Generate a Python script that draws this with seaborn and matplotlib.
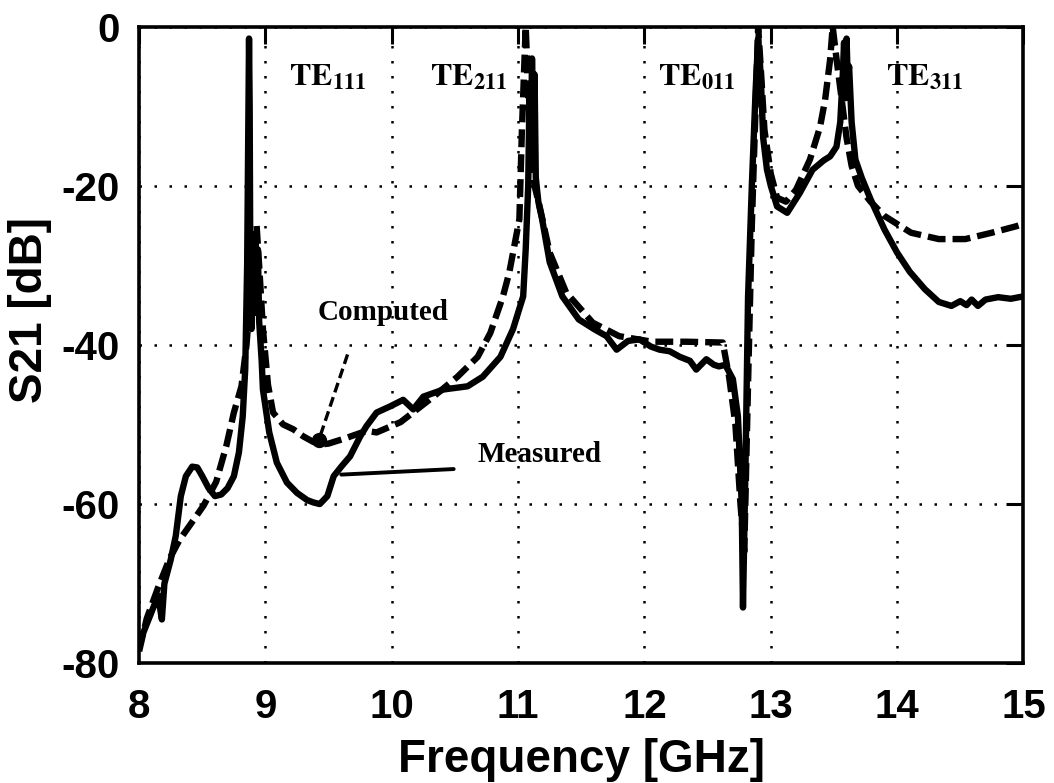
import matplotlib
matplotlib.use("Agg")
import matplotlib.pyplot as plt
import seaborn as sns
import pandas as pd

# Measured S21 trace (GHz, dB)
measured_f = [8.00, 8.05, 8.10, 8.15, 8.18, 8.20, 8.25, 8.29, 8.33, 8.37, 8.42, 8.46,
              8.50, 8.55, 8.60, 8.65, 8.70, 8.75, 8.79, 8.82, 8.84, 8.855, 8.865, 8.87,
              8.875, 8.88, 8.89, 8.90, 8.91, 8.92, 8.93, 8.94, 8.95, 8.97, 8.98, 9.03,
              9.09, 9.17, 9.25, 9.33, 9.38, 9.43, 9.49, 9.54, 9.60, 9.67, 9.75, 9.80,
              9.88, 9.99, 10.09, 10.17, 10.25, 10.41, 10.60, 10.72, 10.86, 10.96, 11.04,
              11.06, 11.08, 11.09, 11.10, 11.11, 11.12, 11.13, 11.14, 11.16, 11.19, 11.25,
              11.35, 11.48, 11.60, 11.70, 11.78, 11.87, 11.96, 12.05, 12.12, 12.20, 12.28,
              12.36, 12.41, 12.49, 12.55, 12.59, 12.64, 12.70, 12.74, 12.77, 12.78, 12.80,
              12.82, 12.85, 12.88, 12.90, 12.92, 12.94, 12.97, 13.00, 13.05, 13.13, 13.23,
              13.33, 13.42, 13.47, 13.52, 13.55, 13.57, 13.58, 13.59, 13.60, 13.61, 13.62,
              13.64, 13.67, 13.72, 13.79, 13.90, 14.00, 14.10, 14.22, 14.33, 14.43, 14.50,
              14.55, 14.59, 14.64, 14.70, 14.80, 14.90, 15.00]
measured_db = [-77.5, -75.5, -73.5, -71.5, -74.5, -70.0, -67.0, -64.0, -59.0, -56.5, -55.3, -55.4,
               -56.5, -58.0, -59.0, -58.8, -58.0, -56.5, -53.5, -49.0, -43.0, -30.0, -10.0, -1.5,
               -10.0, -30.0, -38.0, -27.0, -36.0, -26.0, -33.0, -28.0, -37.0, -42.0, -45.6, -51.0,
               -54.8, -57.3, -58.6, -59.5, -59.8, -60.0, -59.0, -56.5, -55.3, -54.0, -51.5, -50.2,
               -48.5, -47.7, -46.9, -48.1, -46.5, -45.6, -45.2, -44.0, -41.5, -38.0, -33.9,
               -28.0, -20.0, -8.0, -18.0, -4.0, -14.0, -6.0, -19.0, -22.0, -24.2, -29.6,
               -33.9, -36.8, -38.0, -38.9, -40.6, -39.5, -39.3, -40.2, -40.6, -40.8, -41.5,
               -42.0, -43.1, -41.8, -42.5, -42.7, -42.5, -44.3, -49.0, -60.0, -73.0, -55.0,
               -34.0, -20.0, -8.0, -1.5, -6.0, -14.0, -18.0, -20.0, -22.6, -23.4, -20.9,
               -18.0, -16.8, -16.3, -15.1, -12.0, -6.0, -2.0, -9.0, -1.5, -7.0, -5.0,
               -12.0, -16.7, -19.0, -21.7, -25.5, -28.4, -30.8, -33.0, -34.6, -35.1, -34.5,
               -35.0, -34.3, -35.1, -34.3, -34.0, -34.2, -33.9]

# Computed S21 response (GHz, dB)
computed_f = [8.00, 8.06, 8.15, 8.24, 8.32, 8.40, 8.51, 8.61, 8.69, 8.75, 8.81, 8.85,
              8.88, 8.91, 8.93, 8.95, 8.98, 9.02, 9.06, 9.14, 9.22, 9.30, 9.38, 9.45,
              9.50, 9.62, 9.80, 9.88, 10.07, 10.33, 10.52, 10.68, 10.78, 10.88, 10.93,
              11.01, 11.03, 11.06, 11.08, 11.10, 11.13, 11.17, 11.25, 11.38, 11.59, 11.80,
              12.06, 12.33, 12.62, 12.67, 12.72, 12.76, 12.79, 12.82, 12.85, 12.88, 12.90,
              12.92, 12.95, 13.00, 13.05, 13.12, 13.20, 13.31, 13.39, 13.43, 13.47, 13.49,
              13.52, 13.56, 13.60, 13.64, 13.69, 13.79, 13.90, 14.11, 14.33, 14.54, 14.75,
              14.94, 15.00]
computed_db = [-78.5, -74.4, -70.5, -66.9, -64.5, -62.7, -60.2, -57.2, -52.7, -48.5, -45.2, -40.0,
               -34.0, -28.0, -25.0, -30.0, -38.0, -45.0, -48.5, -50.0, -50.6, -51.5, -52.2, -52.5,
               -52.4, -51.8, -50.8, -51.0, -49.7, -46.5, -44.0, -41.5, -38.5, -33.9, -30.9,
               -24.2, -13.0, 0.0, -8.0, -15.0, -20.0, -22.6, -28.4, -33.4, -37.2, -38.9,
               -39.6, -39.6, -39.7, -44.0, -50.0, -60.0, -66.0, -45.0, -25.0, -10.0, 0.0,
               -5.0, -13.0, -18.5, -21.5, -22.0, -20.5, -16.7, -12.6, -9.2, -4.1, 0.0,
               -4.0, -9.0, -14.0, -17.5, -20.0, -22.0, -23.8, -25.9, -26.7, -26.7, -25.9,
               -25.1, -24.8]

# Resonant mode labels (frequency, dB)
mode_names = ["TE_{111}", "TE_{211}", "TE_{011}", "TE_{311}"]
mode_f = [9.49, 10.61, 12.41, 14.22]
mode_db = [-6.3, -6.3, -6.3, -6.3]

x_ticks = [8, 9, 10, 11, 12, 13, 14, 15]
y_ticks = [-80, -60, -40, -20, 0]

sns.set_theme(style="white")
plt.rcParams["mathtext.fontset"] = "stix"

sans = ["Liberation Sans", "DejaVu Sans"]
serif = ["Liberation Serif", "DejaVu Serif"]

fig = plt.figure(figsize=(10.54, 7.83), dpi=100)
ax = fig.add_axes([0.132, 0.153, 0.839, 0.813])

meas = pd.DataFrame({"f": measured_f, "s21": measured_db})
comp = pd.DataFrame({"f": computed_f, "s21": computed_db})

sns.lineplot(data=comp, x="f", y="s21", ax=ax, sort=False, estimator=None,
             color="black", lw=4.6, linestyle=(0, (2.8, 1.1)), zorder=3)
sns.lineplot(data=meas, x="f", y="s21", ax=ax, sort=False, estimator=None,
             color="black", lw=4.6, solid_joinstyle="round", zorder=4)

ax.set_xlim(8, 15)
ax.set_ylim(-80, 0)
ax.set_xticks(x_ticks)
ax.set_yticks(y_ticks)
ax.set_xticklabels([str(t) for t in x_ticks])
ax.set_yticklabels([str(t) for t in y_ticks])

ax.grid(True, color="black", linestyle=(0, (1, 5)), linewidth=1.8)
for s in ax.spines.values():
    s.set_visible(True)
    s.set_color("black")
    s.set_linewidth(2.6)

ax.tick_params(axis="both", which="major", direction="in", length=12, width=2.2,
               top=True, right=True, colors="black")
ax.tick_params(axis="x", pad=18)
ax.tick_params(axis="y", pad=14)
for lab in ax.get_xticklabels() + ax.get_yticklabels():
    lab.set_family(sans)
    lab.set_fontweight("bold")
    lab.set_fontsize(29)

ax.set_xlabel("Frequency [GHz]", family=sans, fontweight="bold", fontsize=33,
              color="black")
ax.xaxis.set_label_coords(0.5, -0.118)
ax.set_ylabel("S21 [dB]", family=sans, fontweight="bold", fontsize=33,
              color="black")
ax.yaxis.set_label_coords(-0.098, 0.555)

for name, f, db in zip(mode_names, mode_f, mode_db):
    ax.text(f, db, r"$\mathbf{" + name + "}$", ha="center", va="center",
            fontsize=23, color="black")

ax.text(9.93, -35.9, "Computed", family=serif, fontweight="bold", fontsize=21,
        ha="center", va="center", color="black")
ax.text(11.17, -53.8, "Measured", family=serif, fontweight="bold", fontsize=21,
        ha="center", va="center", color="black")

# pointer from "Computed" to the computed curve
ax.plot([9.65, 9.43], [-41.2, -51.6], color="black", lw=2.4,
        linestyle=(0, (3, 1.5)), zorder=5)
ax.plot([9.425], [-51.9], marker="o", ms=10, color="black", zorder=5)
# pointer from "Measured" to the measured curve
ax.plot([10.49, 9.60], [-55.6, -56.3], color="black", lw=2.8, zorder=5)

fig.savefig("out.png", dpi=100)
